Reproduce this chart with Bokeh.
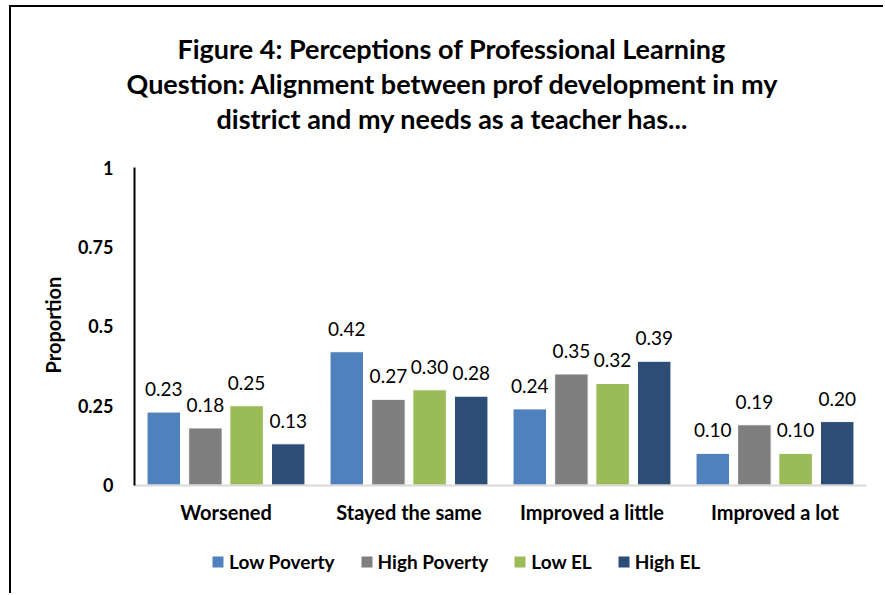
from bokeh.plotting import figure
from bokeh.models import (FactorRange, Range1d, FixedTicker, Legend, LegendItem,
                          Title, ColumnDataSource)
from bokeh.transform import dodge
from bokeh.core.properties import value
from bokeh.embed import file_html
from bokeh.resources import INLINE

categories = ["Worsened", "Stayed the same", "Improved a little", "Improved a lot"]
series_names = ["Low Poverty", "High Poverty", "Low EL", "High EL"]
low_poverty = [0.23, 0.42, 0.24, 0.10]
high_poverty = [0.18, 0.27, 0.35, 0.19]
low_el = [0.25, 0.30, 0.32, 0.10]
high_el = [0.13, 0.28, 0.39, 0.20]
y_ticks = [0, 0.25, 0.5, 0.75, 1]
y_tick_labels = ["0", "0.25", "0.5", "0.75", "1"]
title_lines = [
    "Figure 4: Perceptions of Professional Learning",
    "Question: Alignment between prof development in my",
    "district and my needs as a teacher has...",
]
y_title = "Proportion"

colors = ["#4F81BD", "#7F7F7F", "#9BBB59", "#2C4D75"]
offsets = [-0.34, -0.1126, 0.1126, 0.34]
FONT = "Lato"

# plot area extends below 0 to hold the legend; the axes mark the 0..1 region
p = figure(x_range=FactorRange(*categories), y_range=Range1d(-0.3475, 1),
           width=874, height=588, output_backend="svg", toolbar_location=None,
           min_border_left=123, min_border_right=19, min_border_top=160,
           min_border_bottom=0)
p.styles = {"margin-left": "9px", "margin-top": "5px",
            "border-left": "2px solid black", "border-top": "2px solid black"}
p.outline_line_color = None
p.xgrid.grid_line_color = None
p.ygrid.grid_line_color = None

items = []
for name, vals, col, off in zip(series_names, [low_poverty, high_poverty, low_el, high_el], colors, offsets):
    src = ColumnDataSource(dict(cat=categories, val=vals, lbl=[f"{v:.2f}" for v in vals]))
    r = p.vbar(x=dodge("cat", off, range=p.x_range), top="val", width=0.183, source=src,
               fill_color=col, line_color="white", line_width=1)
    p.text(x=dodge("cat", off, range=p.x_range), y="val", text="lbl", source=src,
           text_align="center", text_baseline="middle", y_offset=-23,
           text_font=value(FONT), text_font_size="19px", text_color="black")
    items.append(LegendItem(label=name, renderers=[r]))

# y axis
ya = p.yaxis[0]
ya.ticker = FixedTicker(ticks=y_ticks)
ya.bounds = (0, 1)
ya.major_label_overrides = {t: l for t, l in zip(y_ticks, y_tick_labels)}
ya.axis_line_color = "black"
ya.axis_line_width = 2
ya.major_tick_line_color = None
ya.minor_tick_line_color = None
ya.major_label_standoff = 15
ya.major_label_text_font = FONT
ya.major_label_text_font_style = "bold"
ya.major_label_text_font_size = "18px"
ya.major_label_text_color = "black"

# y axis title, centred on the 0..1 part of the axis
p.add_layout(Title(text=y_title, align="left", offset=222, standoff=20,
                   text_font=FONT, text_font_style="bold", text_font_size="20px",
                   text_color="black"), "left")

# x axis, drawn at y = 0
xa = p.xaxis[0]
xa.fixed_location = 0
xa.axis_line_color = "#D9D9D9"
xa.axis_line_width = 2
xa.major_tick_line_color = None
xa.minor_tick_line_color = None
xa.major_label_standoff = 9
xa.major_label_text_font = FONT
xa.major_label_text_font_style = "bold"
xa.major_label_text_font_size = "20px"
xa.major_label_text_color = "black"

# spacer between the title block and the plot area
p.add_layout(Title(text=" ", standoff=4, text_font=FONT, text_font_size="22px"), "above")
# title lines, stacked above the frame (last added is outermost)
title_offsets = [43, -8, 82]
for t, off in reversed(list(zip(title_lines, title_offsets))):
    p.add_layout(Title(text=t, align="left", offset=off, standoff=0,
                       text_font=FONT, text_font_style="bold", text_font_size="27px",
                       text_color="black"), "above")

legend = Legend(items=items, orientation="horizontal", location=(76, 22),
                glyph_width=15, glyph_height=15, label_standoff=4, spacing=24,
                padding=0, margin=0, border_line_color=None, background_fill_alpha=0,
                label_text_font=FONT, label_text_font_style="bold",
                label_text_font_size="19px", label_text_color="black")
p.add_layout(legend, "center")

open("out.html", "w").write(file_html(p, INLINE))
